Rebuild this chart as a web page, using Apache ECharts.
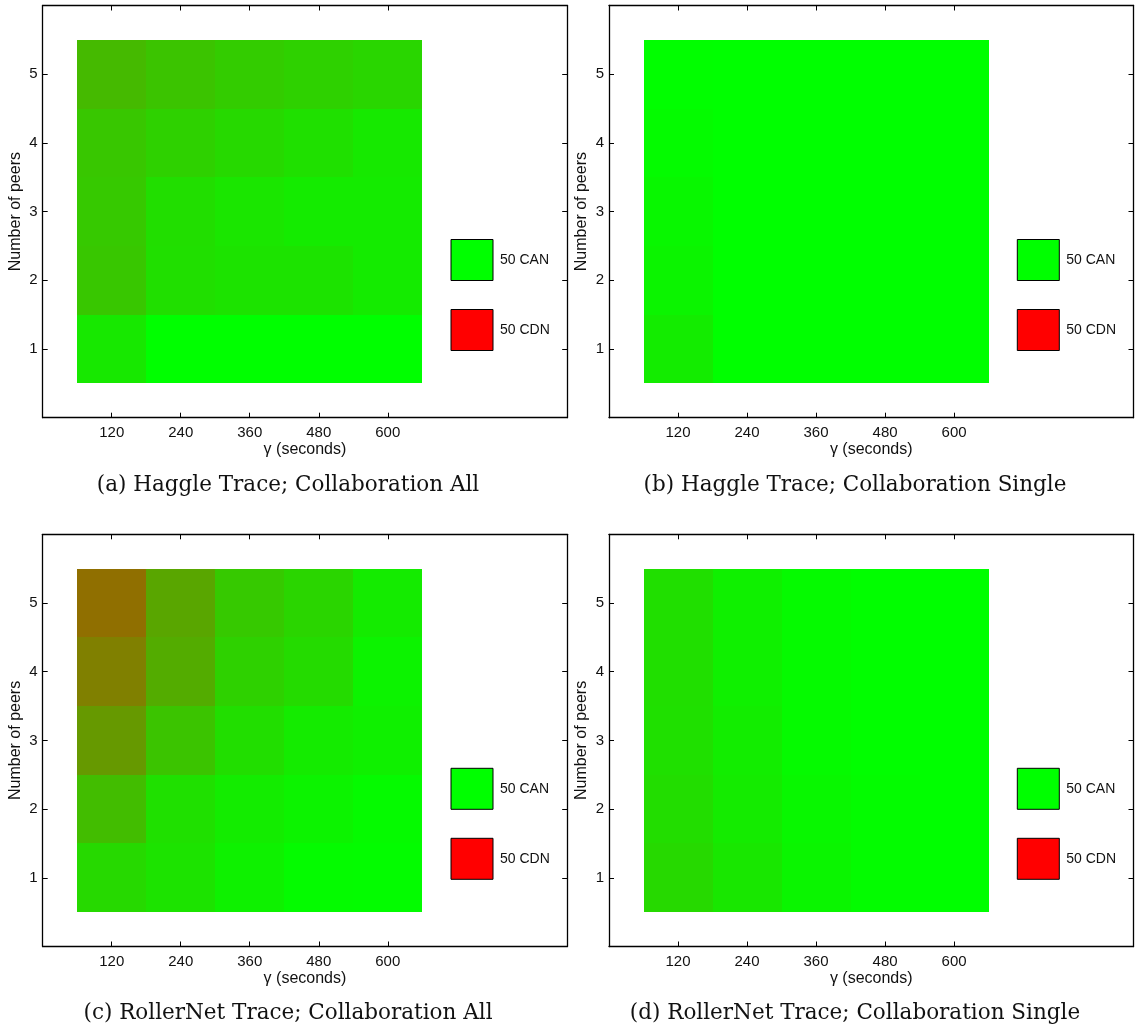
<!DOCTYPE html>
<html>
<head>
<meta charset="utf-8">
<script src="https://cdn.jsdelivr.net/npm/echarts@6/dist/echarts.min.js"></script>
<style>
  html, body { margin: 0; padding: 0; background: #fff; }
  #chart { width: 1135px; height: 1032px; }
</style>
</head>
<body>
<div id="chart"></div>
<script>
// Axis tick values
const gammaTicks = [120, 240, 360, 480, 600];   // γ (seconds)
const peerTicks = [1, 2, 3, 4, 5];              // number of peers

// Share of CDN (%) per cell: one row per peer count (1..5), one column per γ
const haggleAll = [
  [9, 0, 0, 0, 0],
  [22, 12.5, 11, 11, 8],
  [21, 13, 10, 8, 8],
  [22, 18, 15, 12, 8.5],
  [27, 23, 20, 18, 16]
];
const haggleSingle = [
  [7.5, 0, 0, 0, 0],
  [4.5, 0, 0, 0, 0],
  [3, 0, 0, 0, 0],
  [1.5, 0, 0, 0, 0],
  [0.5, 0, 0, 0, 0]
];
const rollerAll = [
  [15, 11, 5.5, 1.5, 1],
  [26, 12, 7.5, 4.7, 2],
  [40, 23, 13, 8, 6],
  [50, 32.5, 18, 14, 4.7],
  [56.5, 35, 21, 16.5, 8]
];
const rollerSingle = [
  [15, 9.5, 4, 1, 0],
  [13.5, 8, 3, 1, 0],
  [12, 7, 2, 0.5, 0],
  [12.5, 6, 2, 0.5, 0],
  [12.5, 6, 2, 0.5, 0]
];

const captions = [
  '(a) Haggle Trace; Collaboration All',
  '(b) Haggle Trace; Collaboration Single',
  '(c) RollerNet Trace; Collaboration All',
  '(d) RollerNet Trace; Collaboration Single'
];
const legendNames = ['50 CAN', '50 CDN'];
const legendColors = ['#00ff00', '#ff0000'];

// ---- layout ----
const SANS = 'Liberation Sans, Arial, Helvetica, sans-serif';
const SERIF = 'DejaVu Serif, serif';
const PLOT_W = 524.5, PLOT_H = 412.2;
const panelBoxes = [
  { left: 42.7, top: 5.5 },
  { left: 609, top: 5.5 },
  { left: 42.7, top: 534.3 },
  { left: 609, top: 534.3 }
];
const captionPos = [
  { x: 288, y: 474 },
  { x: 855, y: 474 },
  { x: 288, y: 1002 },
  { x: 855, y: 1002 }
];
const panelValues = [haggleAll, haggleSingle, rollerAll, rollerSingle];

function cells(rows) {
  const out = [];
  rows.forEach((row, r) => row.forEach((v, c) => out.push([c + 1, peerTicks[r], v])));
  return out;
}

const axisLineStyle = { color: '#000', width: 1.3 };
const tickIdx = gammaTicks.map((_, i) => i + 1);

const grid = [], xAxis = [], yAxis = [], series = [], legend = [], title = [];

panelBoxes.forEach((b, i) => {
  grid.push({ left: b.left, top: b.top, width: PLOT_W, height: PLOT_H, containLabel: false });

  // bottom axis with labels, top axis mirrors the ticks
  xAxis.push({
    gridIndex: i, type: 'value', position: 'bottom', min: 0, max: 7.6,
    name: 'γ (seconds)', nameLocation: 'middle', nameGap: 22,
    nameTextStyle: { fontFamily: SANS, fontSize: 16, color: '#111' },
    axisLine: { onZero: false, lineStyle: axisLineStyle },
    axisTick: { inside: true, length: 5, customValues: tickIdx, lineStyle: { color: '#000', width: 1 } },
    axisLabel: { customValues: tickIdx, margin: 8, fontFamily: SANS, fontSize: 15, color: '#111',
      formatter: v => String(gammaTicks[Math.round(v) - 1]) },
    splitLine: { show: false }
  });
  xAxis.push({
    gridIndex: i, type: 'value', position: 'top', min: 0, max: 7.6,
    axisLine: { onZero: false, lineStyle: axisLineStyle },
    axisTick: { inside: true, length: 5, customValues: tickIdx, lineStyle: { color: '#000', width: 1 } },
    axisLabel: { show: false },
    splitLine: { show: false }
  });
  yAxis.push({
    gridIndex: i, type: 'value', position: 'left', min: 0, max: 6,
    name: 'Number of peers', nameLocation: 'middle', nameGap: 19,
    nameTextStyle: { fontFamily: SANS, fontSize: 16, color: '#111' },
    axisLine: { onZero: false, lineStyle: axisLineStyle },
    axisTick: { inside: true, length: 5, customValues: peerTicks, lineStyle: { color: '#000', width: 1 } },
    axisLabel: { customValues: peerTicks, margin: 5, fontFamily: SANS, fontSize: 15, color: '#111' },
    splitLine: { show: false }
  });
  yAxis.push({
    gridIndex: i, type: 'value', position: 'right', min: 0, max: 6,
    axisLine: { onZero: false, lineStyle: axisLineStyle },
    axisTick: { inside: true, length: 5, customValues: peerTicks, lineStyle: { color: '#000', width: 1 } },
    axisLabel: { show: false },
    splitLine: { show: false }
  });

  // heatmap cells, one unit wide in both directions
  series.push({
    type: 'custom',
    xAxisIndex: 2 * i, yAxisIndex: 2 * i,
    data: cells(panelValues[i]),
    encode: { x: 0, y: 1 },
    silent: true,
    renderItem(params, api) {
      const x = api.value(0), y = api.value(1);
      const p0 = api.coord([x - 0.5, y + 0.5]);
      const p1 = api.coord([x + 0.5, y - 0.5]);
      const x0 = Math.round(p0[0]), y0 = Math.round(p0[1]);
      const x1 = Math.round(p1[0]), y1 = Math.round(p1[1]);
      return {
        type: 'rect',
        shape: { x: x0, y: y0, width: x1 - x0, height: y1 - y0 },
        style: { fill: api.visual('color') }
      };
    }
  });

  legend.push({
    data: legendNames,
    orient: 'vertical',
    left: b.left + 407.8,
    top: b.top + 233.5,
    padding: 0,
    itemWidth: 42,
    itemHeight: 41,
    itemGap: 28,
    icon: 'rect',
    selectedMode: false,
    itemStyle: { borderColor: '#000', borderWidth: 1 },
    textStyle: { fontFamily: SANS, fontSize: 14, color: '#111', padding: [0, 0, 0, 2] }
  });

  title.push({
    text: captions[i],
    left: captionPos[i].x,
    top: captionPos[i].y,
    textAlign: 'center',
    padding: 0,
    textStyle: { fontFamily: SERIF, fontSize: 21.5, fontWeight: 'normal', color: '#111' }
  });
});

// legend key series (no cells of their own)
legendNames.forEach((name, k) => {
  series.push({
    type: 'custom', name, xAxisIndex: 0, yAxisIndex: 0, data: [],
    itemStyle: { color: legendColors[k] },
    renderItem: () => null
  });
});

const chart = echarts.init(document.getElementById('chart'), null, { renderer: 'canvas' });
chart.setOption({
  backgroundColor: '#fff',
  animation: false,
  title, grid, xAxis, yAxis, legend, series,
  visualMap: {
    type: 'continuous', show: false, min: 0, max: 100, dimension: 2,
    seriesIndex: [0, 1, 2, 3],
    inRange: { color: ['#00ff00', '#ff0000'] }
  }
});
</script>
</body>
</html>
